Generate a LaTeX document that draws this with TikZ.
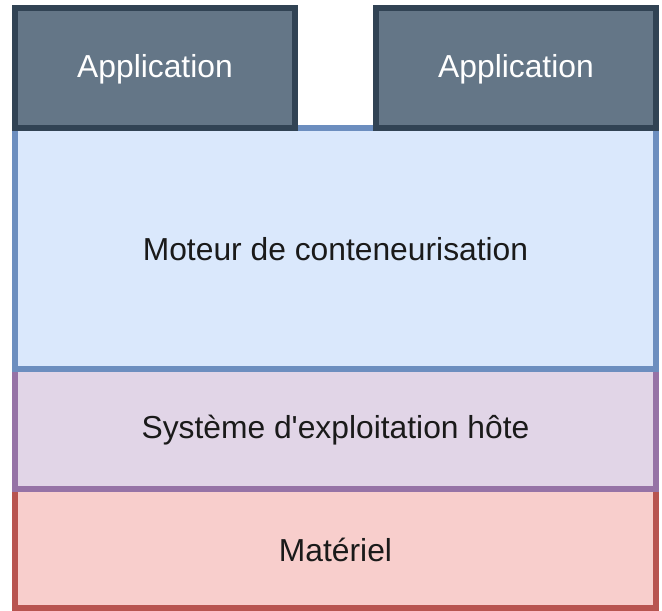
\documentclass[tikz,border=0pt]{standalone}
\usepackage{fontspec}
\setmainfont{Liberation Sans}
\definecolor{appfill}{HTML}{647687}
\definecolor{appdraw}{HTML}{314354}
\definecolor{bluefill}{HTML}{DAE8FC}
\definecolor{bluedraw}{HTML}{6C8EBF}
\definecolor{purfill}{HTML}{E1D5E7}
\definecolor{purdraw}{HTML}{9673A6}
\definecolor{redfill}{HTML}{F8CECC}
\definecolor{reddraw}{HTML}{B85450}
\definecolor{txt}{HTML}{1A1A1A}
\tikzset{
  layer/.style={line width=5.5pt, text=txt, font=\fontsize{31.8}{38}\selectfont},
  appbox/.style={layer, fill=appfill, draw=appdraw, text=white},
}
\begin{document}
\begin{tikzpicture}[x=1pt,y=-1pt]
\useasboundingbox (0,0) rectangle (662,611);
% Matériel
\draw[layer, fill=redfill, draw=reddraw] (15,489) rectangle (656,608);
\node[layer] (mat) at (335.5,549.5) {Matériel};
% Système
\draw[layer, fill=purfill, draw=purdraw] (15,369) rectangle (656,489);
\node[layer] (os) at (335.5,430) {Système d\textquotesingle exploitation hôte};
% Moteur
\draw[layer, fill=bluefill, draw=bluedraw] (15,128) rectangle (656,369);
\node[layer] (eng) at (335.5,249.5) {Moteur de conteneurisation};
% Applications
\draw[appbox] (15,8) rectangle (295,128);
\node[appbox, draw=none, fill=none] (app1) at (155,69) {Application};
\draw[appbox] (376,8) rectangle (656,128);
\node[appbox, draw=none, fill=none] (app2) at (516,69) {Application};
\end{tikzpicture}
\end{document}
